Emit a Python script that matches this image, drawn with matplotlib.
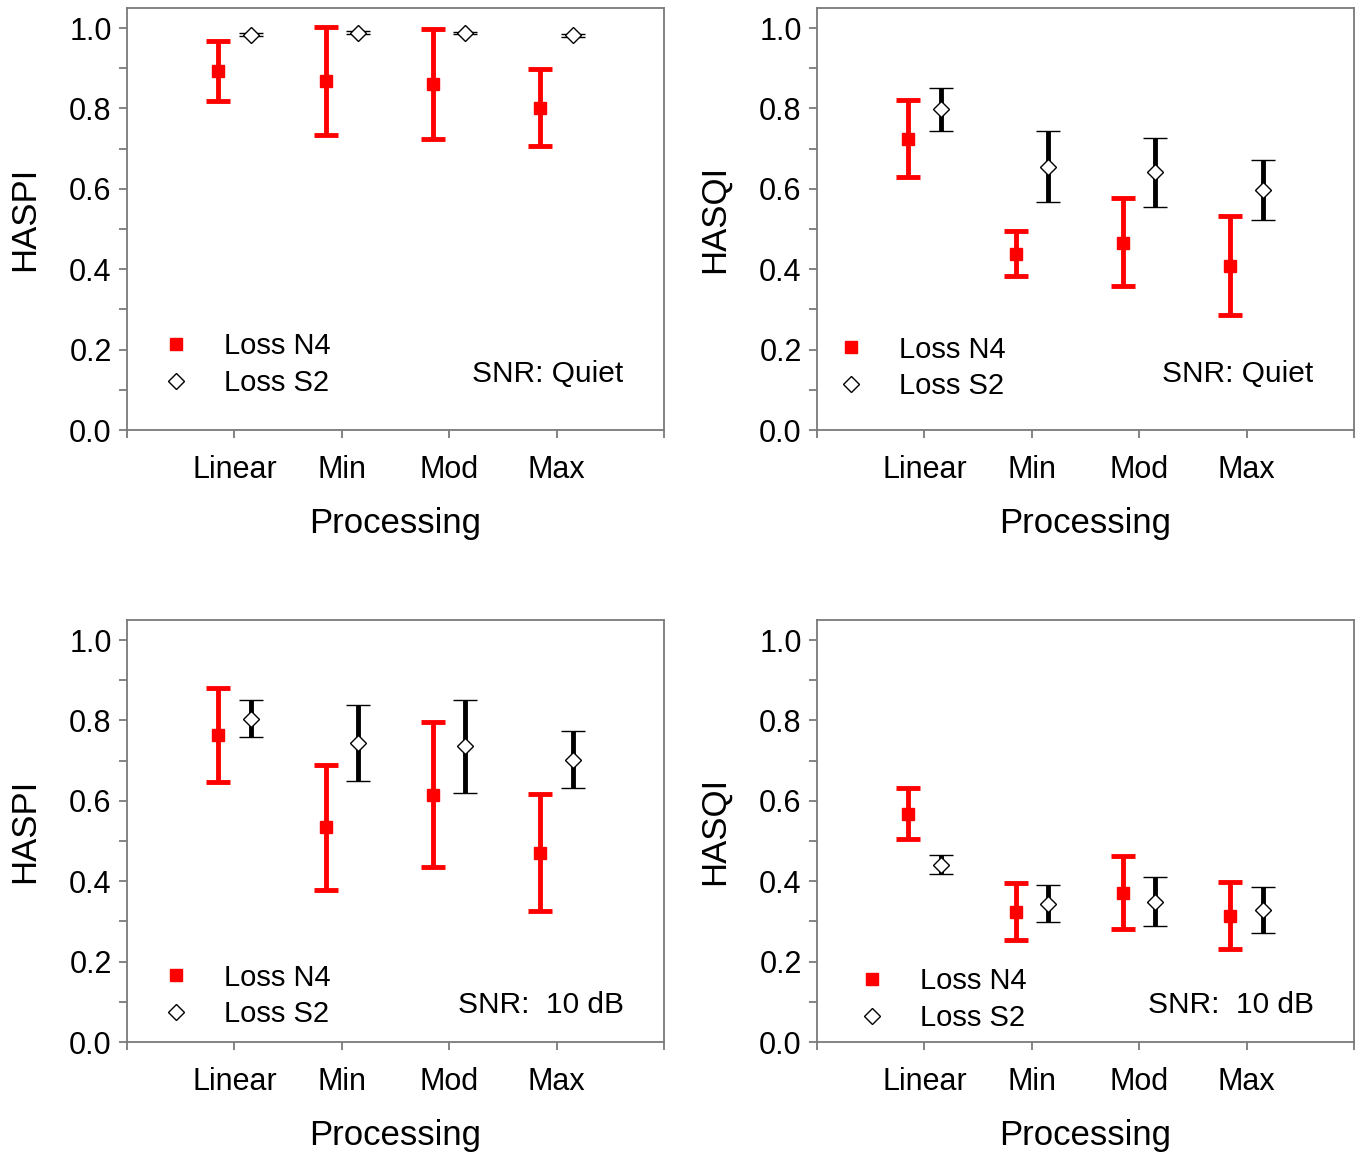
import matplotlib
matplotlib.use("Agg")
import matplotlib.pyplot as plt
from matplotlib.lines import Line2D
import numpy as np

plt.rcParams['font.family'] = ['Liberation Sans', 'DejaVu Sans']

categories = ["Linear", "Min", "Mod", "Max"]

# Panel A: HASPI, quiet
haspi_q_n4 = [0.893, 0.868, 0.860, 0.800]
haspi_q_n4_lo = [0.818, 0.735, 0.725, 0.706]
haspi_q_n4_hi = [0.967, 1.003, 0.997, 0.898]
haspi_q_s2 = [0.984, 0.989, 0.988, 0.982]
haspi_q_s2_lo = [0.981, 0.986, 0.985, 0.979]
haspi_q_s2_hi = [0.987, 0.992, 0.991, 0.985]

# Panel B: HASQI, quiet
hasqi_q_n4 = [0.724, 0.439, 0.466, 0.408]
hasqi_q_n4_lo = [0.629, 0.382, 0.359, 0.286]
hasqi_q_n4_hi = [0.820, 0.494, 0.577, 0.533]
hasqi_q_s2 = [0.798, 0.655, 0.641, 0.597]
hasqi_q_s2_lo = [0.745, 0.568, 0.556, 0.523]
hasqi_q_s2_hi = [0.852, 0.744, 0.727, 0.672]

# Panel C: HASPI, 10 dB
haspi_10_n4 = [0.764, 0.534, 0.615, 0.471]
haspi_10_n4_lo = [0.648, 0.378, 0.436, 0.325]
haspi_10_n4_hi = [0.881, 0.688, 0.795, 0.618]
haspi_10_s2 = [0.804, 0.743, 0.736, 0.701]
haspi_10_s2_lo = [0.759, 0.650, 0.620, 0.632]
haspi_10_s2_hi = [0.852, 0.839, 0.850, 0.773]

# Panel D: HASQI, 10 dB
hasqi_10_n4 = [0.568, 0.324, 0.371, 0.314]
hasqi_10_n4_lo = [0.505, 0.254, 0.281, 0.231]
hasqi_10_n4_hi = [0.632, 0.395, 0.463, 0.398]
hasqi_10_s2 = [0.441, 0.344, 0.348, 0.328]
hasqi_10_s2_lo = [0.417, 0.299, 0.288, 0.271]
hasqi_10_s2_hi = [0.465, 0.390, 0.411, 0.386]

series_labels = ["Loss N4", "Loss S2"]

panels = [
    dict(ylabel="HASPI", snr="SNR: Quiet",
         n4=(haspi_q_n4, haspi_q_n4_lo, haspi_q_n4_hi),
         s2=(haspi_q_s2, haspi_q_s2_lo, haspi_q_s2_hi),
         rect=(127, 8, 664, 430), leg=(0.064, 0.155), snr_y=0.133),
    dict(ylabel="HASQI", snr="SNR: Quiet",
         n4=(hasqi_q_n4, hasqi_q_n4_lo, hasqi_q_n4_hi),
         s2=(hasqi_q_s2, hasqi_q_s2_lo, hasqi_q_s2_hi),
         rect=(817, 8, 1354, 430), leg=(0.036, 0.147), snr_y=0.133),
    dict(ylabel="HASPI", snr="SNR:  10 dB",
         n4=(haspi_10_n4, haspi_10_n4_lo, haspi_10_n4_hi),
         s2=(haspi_10_s2, haspi_10_s2_lo, haspi_10_s2_hi),
         rect=(127, 620, 664, 1042), leg=(0.064, 0.109), snr_y=0.088),
    dict(ylabel="HASQI", snr="SNR:  10 dB",
         n4=(hasqi_10_n4, hasqi_10_n4_lo, hasqi_10_n4_hi),
         s2=(hasqi_10_s2, hasqi_10_s2_lo, hasqi_10_s2_hi),
         rect=(817, 620, 1354, 1042), leg=(0.075, 0.101), snr_y=0.088),
]

W, H = 1360, 1155
fig = plt.figure(figsize=(W / 100, H / 100), dpi=100)

spine_col = "#7a7a7a"
x = np.arange(1, len(categories) + 1)
off = 0.15

for p in panels:
    l, t, r, b = p["rect"]
    ax = fig.add_axes([l / W, 1 - b / H, (r - l) / W, (b - t) / H])
    for s in ax.spines.values():
        s.set_color(spine_col)
        s.set_linewidth(1.3)

    m, lo, hi = (np.array(v) for v in p["n4"])
    ax.errorbar(x - off, m, yerr=[m - lo, hi - m], fmt="s", color="#ff0000",
                ecolor="#ff0000", elinewidth=3.5, capsize=8.3, capthick=3.5,
                markersize=8.5, zorder=3)
    m, lo, hi = (np.array(v) for v in p["s2"])
    ax.errorbar(x + off, m, yerr=[m - lo, hi - m], fmt="D", color="black",
                ecolor="black", elinewidth=3.5, capsize=8.3, capthick=3.8,
                markersize=8.5, markerfacecolor="white", markeredgecolor="black",
                markeredgewidth=1.0, zorder=3)

    ax.set_xlim(0, 5)
    ax.set_ylim(0, 1.05)
    ax.set_xticks([0, 1, 2, 3, 4, 5])
    ax.set_xticklabels([""] + categories + [""])
    ax.set_yticks([0.0, 0.2, 0.4, 0.6, 0.8, 1.0])
    ax.set_yticklabels(["0.0", "0.2", "0.4", "0.6", "0.8", "1.0"])
    ax.set_yticks(np.arange(0.1, 1.0, 0.2), minor=True)
    ax.tick_params(axis="both", which="both", direction="out", length=6,
                   width=1.3, color=spine_col, labelsize=22)
    ax.tick_params(axis="x", pad=12)
    ax.tick_params(axis="y", pad=5)
    ax.set_xlabel("Processing", fontsize=25, labelpad=16)
    ax.set_ylabel(p["ylabel"], fontsize=25, labelpad=20)

    handles = [
        Line2D([], [], linestyle="none", marker="s", markersize=8.5,
               color="#ff0000"),
        Line2D([], [], linestyle="none", marker="D", markersize=8.5,
               markerfacecolor="white", markeredgecolor="black",
               markeredgewidth=1.0),
    ]
    ax.legend(handles, series_labels, loc="center left",
              bbox_to_anchor=p["leg"], frameon=False, fontsize=21,
              handlelength=1.0, handletextpad=1.15, labelspacing=0.3,
              borderpad=0, borderaxespad=0)

    ax.text(0.925, p["snr_y"], p["snr"],
            transform=ax.transAxes, ha="right", va="center", fontsize=21.5)

fig.savefig("out.png", dpi=100)
